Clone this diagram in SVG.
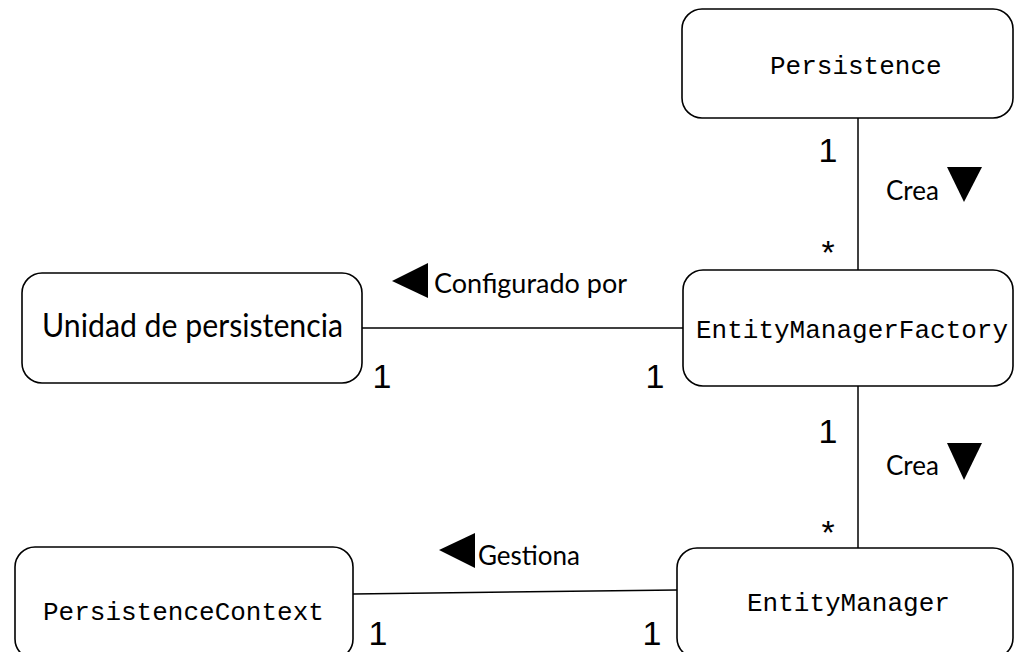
<svg xmlns="http://www.w3.org/2000/svg" width="1014" height="652" viewBox="0 0 1014 652">
<style>
.box{fill:#fff;stroke:#000;stroke-width:1.6}
.mono{font-family:"Liberation Mono","Courier New",monospace;font-size:26px;fill:#000}
.sans{font-family:Lato,"Open Sans",sans-serif;fill:#000}
.mult{font-family:"Liberation Sans",Arial,sans-serif;font-size:34px;fill:#000;text-anchor:middle}
.conn{stroke:#000;stroke-width:1.5;fill:none}
</style>
<rect width="1014" height="652" fill="#fff"/>
<g id="connectors">
<line class="conn" x1="858" y1="118" x2="858" y2="270"/>
<line class="conn" x1="362" y1="328" x2="683" y2="328"/>
<line class="conn" x1="858" y1="386" x2="858" y2="548"/>
<line class="conn" x1="353" y1="594" x2="677" y2="590"/>
<text class="mult" x="828" y="162">1</text>
<text class="mult" x="828" y="264">*</text>
<text class="sans" x="886" y="200" font-size="26">Crea</text>
<polygon points="947,167 982,167 964,202" fill="#000"/>
<text class="mult" x="828" y="443">1</text>
<text class="mult" x="828" y="544">*</text>
<text class="sans" x="886" y="475" font-size="26">Crea</text>
<polygon points="947,443 982,443 964,480" fill="#000"/>
<text class="mult" x="382" y="388">1</text>
<text class="mult" x="655" y="388">1</text>
<polygon points="392,281 428,263 428,298" fill="#000"/>
<text class="sans" x="434" y="293" font-size="26" textLength="193" lengthAdjust="spacingAndGlyphs">Configurado por</text>
<text class="mult" x="378" y="645">1</text>
<text class="mult" x="652" y="645">1</text>
<polygon points="439,550 475,533 475,568" fill="#000"/>
<text class="sans" x="478" y="565" font-size="26">Gestiona</text>
</g>
<g id="persistence">
<rect class="box" x="682" y="9" width="331" height="109" rx="20"/>
<text class="mono" x="770" y="74">Persistence</text>
</g>
<g id="emf">
<rect class="box" x="683" y="270" width="330" height="116" rx="20"/>
<text class="mono" x="696" y="338">EntityManagerFactory</text>
</g>
<g id="unidad">
<rect class="box" x="22" y="273" width="340" height="110" rx="20"/>
<text class="sans" x="42" y="337" font-size="32" textLength="301" lengthAdjust="spacingAndGlyphs">Unidad de persistencia</text>
</g>
<g id="entitymanager">
<rect class="box" x="677" y="548" width="336" height="110" rx="20"/>
<text class="mono" x="747" y="611">EntityManager</text>
</g>
<g id="persistencecontext">
<rect class="box" x="15" y="547" width="338" height="112" rx="20"/>
<text class="mono" x="43" y="620">PersistenceContext</text>
</g>
</svg>
